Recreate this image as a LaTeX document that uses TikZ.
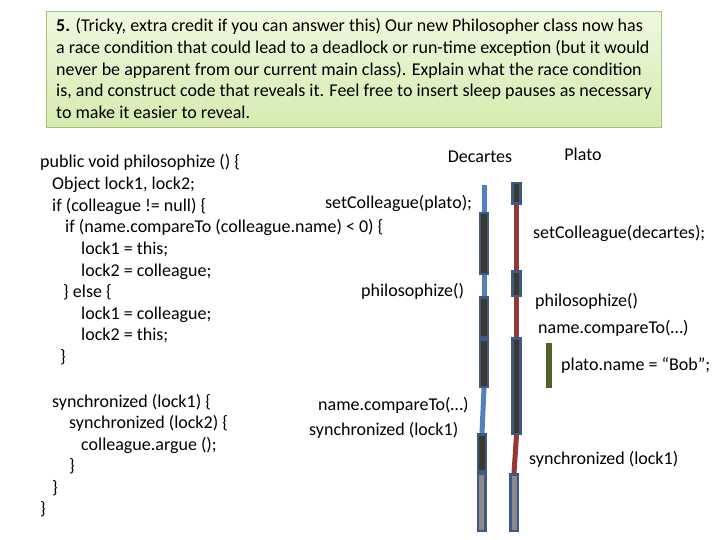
\documentclass[tikz,border=0pt]{standalone}
\usepackage{fontspec}
\setmainfont{Carlito}
\definecolor{titlebord}{HTML}{A6C27A}
\definecolor{titletop}{HTML}{EEF8DE}
\definecolor{titlebot}{HTML}{D5EBB0}
\definecolor{boxbord}{HTML}{3E5A84}
\definecolor{boxfill}{HTML}{3A3A2C}
\definecolor{grayfill}{HTML}{8A8A8A}
\definecolor{dline}{HTML}{4F81BD}
\definecolor{pline}{HTML}{953735}
\definecolor{gbar}{HTML}{4F6228}
\tikzset{
  txt/.style={anchor=base west,inner sep=0pt,font=\fontsize{18}{20}\selectfont},
  ltxt/.style={anchor=base west,inner sep=0pt,font=\fontsize{18}{20}\selectfont},
  ttl/.style={anchor=base west,inner sep=0pt,font=\fontsize{18}{20}\selectfont},
  lab/.style={anchor=base,inner sep=0pt,font=\fontsize{18}{20}\selectfont},
  actbox/.style={draw=boxbord,fill=boxfill,line width=2.5pt,minimum width=8pt,inner sep=0pt},
  waitbox/.style={draw=boxbord,fill=grayfill,line width=2.5pt,minimum width=7.5pt,inner sep=0pt},
  dlife/.style={draw=dline,line width=5pt},
  plife/.style={draw=pline,line width=5pt}
}
\begin{document}
\begin{tikzpicture}[x=1pt,y=-1pt]
\useasboundingbox (0,0) rectangle (720,540);
% title box
\shade[top color=titletop,bottom color=titlebot,draw=titlebord,line width=1pt] (46,12) rectangle (661,128);
\node[ttl] (t1) at (56,32) {\textbf{5.} (Tricky, extra credit if you can answer this) Our new Philosopher class now has};
\node[ttl] (t2) at (56,53.5) {a race condition that could lead to a deadlock or run-time exception (but it would};
\node[ttl] (t3) at (56,75.5) {never be apparent from our current main class). Explain what the race condition};
\node[ttl] (t4) at (56,97) {is, and construct code that reveals it. Feel free to insert sleep pauses as necessary};
\node[ttl] (t5) at (56,118.5) {to make it easier to reveal.};
% code
\node[txt] (c1) at (40,168) {public void philosophize () \{};
\node[txt] (c2) at (52,190) {Object lock1, lock2;};
\node[txt] (c3) at (52,211.5) {if (colleague != null) \{};
\node[txt] (c4) at (65,233) {if (name.compareTo (colleague.name) < 0) \{};
\node[txt] (c5) at (81,254.5) {lock1 = this;};
\node[txt] (c6) at (81,276) {lock2 = colleague;};
\node[txt] (c7) at (63,297.5) {\} else \{};
\node[txt] (c8) at (81,319) {lock1 = colleague;};
\node[txt] (c9) at (81,340.5) {lock2 = this;};
\node[txt] (c10) at (60,362) {\}};
\node[txt] (c11) at (52,407) {synchronized (lock1) \{};
\node[txt] (c12) at (69,428.5) {synchronized (lock2) \{};
\node[txt] (c13) at (81,450) {colleague.argue ();};
\node[txt] (c14) at (69,471.5) {\}};
\node[txt] (c15) at (52,493) {\}};
\node[txt] (c16) at (40,514.5) {\}};
% headers
\node[lab] (hd) at (480,163) {Decartes};
\node[lab] (hp) at (583,161) {Plato};
% labels
\node[ltxt] (l1) at (325,209) {setColleague(plato);};
\node[ltxt] (l2) at (361,296) {philosophize()};
\node[ltxt] (l3) at (318,410) {name.compareTo(…)};
\node[ltxt] (l4) at (309,435) {synchronized (lock1)};
\node[ltxt] (r1) at (533,238) {setColleague(decartes);};
\node[ltxt] (r2) at (535,306) {philosophize()};
\node[ltxt] (r3) at (538,333) {name.compareTo(…)};
\node[ltxt] (r4) at (561,370) {plato.name = “Bob”;};
\node[ltxt] (r5) at (529,464) {synchronized (lock1)};
% Decartes timeline
\coordinate (dtop) at (484,185);
\node[actbox,minimum height=60.5pt] (d1) at (484,243.5) {};
\node[actbox,minimum height=39.5pt] (d2) at (484,317) {};
\node[actbox,minimum height=47.5pt] (d3) at (484,363) {};
\node[actbox,minimum height=36.5pt] (d4) at (482,452.5) {};
\node[waitbox,minimum height=57.5pt] (d5) at (481.5,502) {};
\draw[dlife] (dtop) -- (d1.north);
\draw[dlife] (d1.south) -- (d2.north);
\draw[dlife] (d3.south) -- (d4.north);
% Plato timeline
\node[actbox,minimum height=20.5pt] (p1) at (516.5,193.5) {};
\node[actbox,minimum height=24.5pt] (p2) at (516.5,283.5) {};
\node[actbox,minimum height=95.5pt] (p3) at (516.5,386) {};
\node[waitbox,minimum height=56.5pt] (p4) at (514,502.5) {};
\draw[plife] (p1.south) -- (p2.north);
\draw[plife] (p2.south) -- (p3.north);
\draw[plife] (p3.south) -- (p4.north);
% Bob bar
\node[fill=gbar,minimum width=6pt,minimum height=45pt,inner sep=0pt] (bob) at (549,365.5) {};
\end{tikzpicture}
\end{document}
